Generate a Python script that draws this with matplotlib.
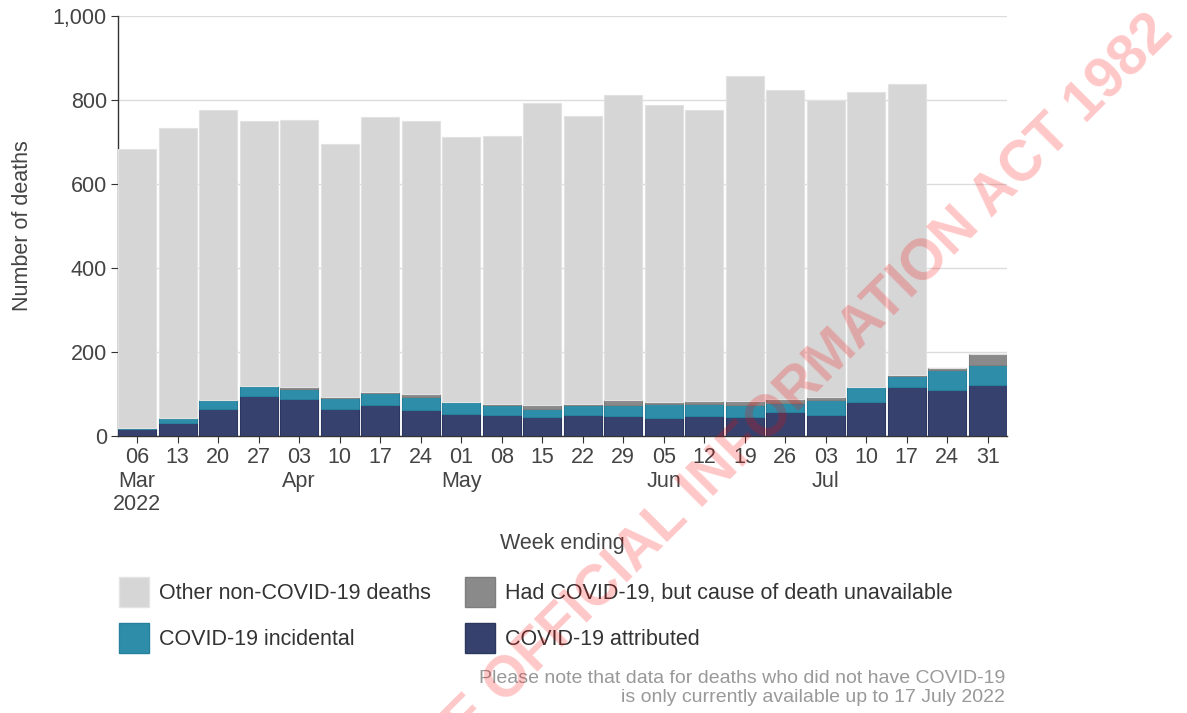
import numpy as np
import matplotlib.pyplot as plt
from matplotlib.patches import Patch
from matplotlib.ticker import FuncFormatter

plt.rcParams['font.family'] = ['Liberation Sans', 'DejaVu Sans']

weeks = ["06\nMar\n2022", "13", "20", "27", "03\nApr", "10", "17", "24",
         "01\nMay", "08", "15", "22", "29", "05\nJun", "12", "19", "26",
         "03\nJul", "10", "17", "24", "31"]

attributed = [17, 30, 65, 95, 89, 65, 74, 63, 52, 50, 46, 50, 48, 44, 48, 46, 56, 51, 82, 116, 110, 121]
incidental = [1, 14, 21, 24, 24, 25, 28, 31, 29, 24, 19, 24, 26, 32, 28, 28, 23, 34, 34, 28, 47, 47]
had_covid  = [0, 0, 0, 0, 4, 4, 3, 7, 0, 2, 9, 2, 12, 4, 7, 9, 10, 9, 1, 1, 6, 27]
totals     = [684, 733, 777, 751, 752, 696, 759, 750, 712, 714, 794, 762, 812, 789, 777, 856, 823, 799, 819, 837, 163, 195]

attributed = np.array(attributed)
incidental = np.array(incidental)
had_covid = np.array(had_covid)
other = np.array(totals) - attributed - incidental - had_covid
other[other < 0] = 0

c_other = '#d6d6d6'
c_had = '#8a8a8a'
c_inc = '#2e8eaa'
c_att = '#36426d'

fs = 15.5

fig = plt.figure(figsize=(11.87, 7.13), dpi=100)
ax = fig.add_axes([118 / 1187, 1 - 436 / 713, (1007 - 118) / 1187, 420 / 713])

x = np.arange(len(weeks))
w = 0.95
b1 = attributed
b2 = b1 + incidental
b3 = b2 + had_covid
ax.bar(x, attributed, w, color=c_att, edgecolor='#2c3760', linewidth=0.8, zorder=3)
ax.bar(x, incidental, w, bottom=b1, color=c_inc, edgecolor='#27809b', linewidth=0.8, zorder=3)
ax.bar(x, had_covid, w, bottom=b2, color=c_had, edgecolor='#7e7e7e', linewidth=0.8, zorder=3)
ax.bar(x, other, w, bottom=b3, color=c_other, edgecolor='#e2e2e2', linewidth=0.8, zorder=3)

ax.set_xlim(-0.475, len(weeks) - 0.525)
ax.set_ylim(0, 1000)
ax.set_yticks(range(0, 1001, 200))
ax.yaxis.set_major_formatter(FuncFormatter(lambda v, p: f"{int(v):,}"))
ax.set_xticks(x)
ax.set_xticklabels(weeks, linespacing=1.15)
ax.grid(axis='y', color='#dcdcdc', linewidth=1, zorder=0)

for s in ['top', 'right']:
    ax.spines[s].set_visible(False)
for s in ['left', 'bottom']:
    ax.spines[s].set_color('#333333')
    ax.spines[s].set_linewidth(1.0)
ax.tick_params(axis='both', length=5, color='#333333', labelsize=fs, labelcolor='#444444', pad=3)

ax.set_ylabel("Number of deaths", fontsize=fs, color='#444444')
ax.yaxis.set_label_coords(-0.096, 0.5)
fig.text(562 / 1187, 1 - 543 / 713, "Week ending", fontsize=fs, color='#444444', ha='center', va='center')

handles = [Patch(facecolor=c_other, edgecolor='#e4e4e4', label='Other non-COVID-19 deaths'),
           Patch(facecolor=c_inc, edgecolor='#27809b', label='COVID-19 incidental'),
           Patch(facecolor=c_had, edgecolor='#7e7e7e', label='Had COVID-19, but cause of death unavailable'),
           Patch(facecolor=c_att, edgecolor='#2c3760', label='COVID-19 attributed')]
fig.legend(handles=handles, loc='upper left', bbox_to_anchor=(119 / 1187, 1 - 577 / 713),
           ncol=2, frameon=False, fontsize=fs, labelcolor='#333333',
           handlelength=1.4, handleheight=1.77, handletextpad=0.45,
           labelspacing=0.74, columnspacing=1.58, borderpad=0, borderaxespad=0)

fig.text(1005 / 1187, 1 - 688 / 713,
         "Please note that data for deaths who did not have COVID-19\nis only currently available up to 17 July 2022",
         fontsize=14, color='#999999', ha='right', va='center', linespacing=1.2)

fig.text(0.99, 1 - 35 / 713, "RELEASED UNDER THE OFFICIAL INFORMATION ACT 1982",
         rotation=45, rotation_mode='anchor', ha='right', va='baseline',
         fontsize=41, fontweight='bold', color='red', alpha=0.22, zorder=10)

fig.savefig("out.png", dpi=100)
